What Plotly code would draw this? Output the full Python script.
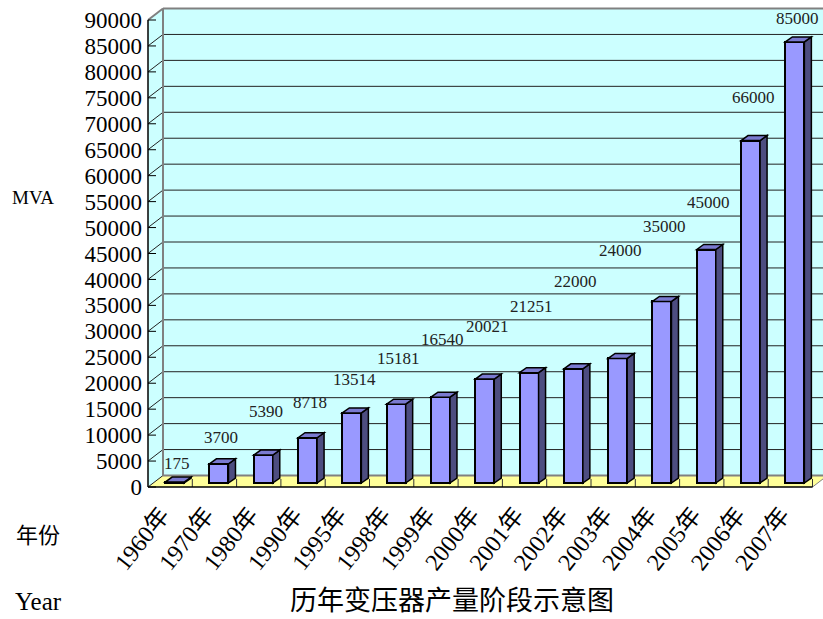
import plotly.graph_objects as go

# ---------------- data ----------------
years = ["1960年", "1970年", "1980年", "1990年", "1995年", "1998年", "1999年", "2000年",
         "2001年", "2002年", "2003年", "2004年", "2005年", "2006年", "2007年"]
values = [175, 3700, 5390, 8718, 13514, 15181, 16540, 20021,
          21251, 22000, 24000, 35000, 45000, 66000, 85000]
# heights (front-axis units) at which the data labels sit in the reference
label_at = [4600, 9600, 14500, 16200, 20800, 24700, 28500, 31000,
            34700, 39700, 45500, 50300, 54900, 75000, 90200]
y_ticks = list(range(0, 90001, 5000))

# ---------------- layout constants ----------------
W, H = 823, 619
L, R, T, B = 145, 0, 5, 128
PX_PER_UNIT_X = 44.3                 # pixels per category
PX_PER_UNIT_Y = 467 / 90000          # pixels per MVA
plot_w = W - L - R
plot_h = H - T - B
x0_range = -0.5 - 3 / PX_PER_UNIT_X
x_range = [x0_range, x0_range + plot_w / PX_PER_UNIT_X]
y_bottom = -4 / PX_PER_UNIT_Y
y_range = [y_bottom, y_bottom + plot_h / PX_PER_UNIT_Y]
bar_lift = 4 / PX_PER_UNIT_Y          # bars sit slightly behind the front axis
y2_range = [y_range[0] - bar_lift, y_range[1] - bar_lift]

wall_dx = 15 / PX_PER_UNIT_X
wall_dy = 11.5 / PX_PER_UNIT_Y
bar_dx = 7 / PX_PER_UNIT_X
bar_dy = 5 / PX_PER_UNIT_Y
bar_w = 0.43
bar_off = -bar_w / 2 + 4.5 / PX_PER_UNIT_X

SERIF = "Liberation Serif, Noto Sans CJK SC, serif"
CJK = "Noto Sans CJK SC, sans-serif"

n = len(years)
xs = list(range(n))
x_left_edge = -0.5
x_right_edge = n - 0.5
y_top = y_ticks[-1]

fig = go.Figure()
fig.add_trace(go.Bar(
    x=xs, y=values, yaxis="y2", width=bar_w, offset=bar_off,
    marker=dict(color="#9999FF", line=dict(color="black", width=2)),
    hoverinfo="x+y", showlegend=False,
))

shapes = []
GREY = "#808080"
# back wall
shapes.append(dict(type="rect", xref="x", yref="y", layer="below",
                   x0=x_left_edge + wall_dx, x1=x_right_edge + wall_dx,
                   y0=wall_dy, y1=y_top + wall_dy,
                   fillcolor="#CCFFFF", line=dict(width=0)))
# left wall
shapes.append(dict(type="path", xref="x", yref="y", layer="below",
                   path=f"M {x_left_edge},0 L {x_left_edge + wall_dx},{wall_dy} "
                        f"L {x_left_edge + wall_dx},{y_top + wall_dy} L {x_left_edge},{y_top} Z",
                   fillcolor="#CCFFFF", line=dict(width=0)))
# floor
shapes.append(dict(type="path", xref="x", yref="y", layer="below",
                   path=f"M {x_left_edge},0 L {x_right_edge},0 "
                        f"L {x_right_edge + wall_dx},{wall_dy} L {x_left_edge + wall_dx},{wall_dy} Z",
                   fillcolor="#FFFF99", line=dict(width=0)))
# back wall gridlines
for v in y_ticks[1:-1]:
    shapes.append(dict(type="line", xref="x", yref="y", layer="below",
                       x0=x_left_edge + wall_dx, x1=x_right_edge + wall_dx,
                       y0=v + wall_dy, y1=v + wall_dy,
                       line=dict(color="#222222", width=1)))
# left wall diagonals
for v in y_ticks[:-1]:
    shapes.append(dict(type="line", xref="x", yref="y", layer="below",
                       x0=x_left_edge, x1=x_left_edge + wall_dx,
                       y0=v, y1=v + wall_dy,
                       line=dict(color="#222222", width=1)))
# grey frame edges
shapes.append(dict(type="line", xref="x", yref="y", layer="below",
                   x0=x_left_edge, x1=x_left_edge + wall_dx, y0=y_top, y1=y_top + wall_dy,
                   line=dict(color=GREY, width=2)))
shapes.append(dict(type="line", xref="x", yref="y", layer="below",
                   x0=x_left_edge + wall_dx, x1=x_left_edge + wall_dx, y0=wall_dy, y1=y_top + wall_dy,
                   line=dict(color=GREY, width=2)))
shapes.append(dict(type="line", xref="x", yref="y", layer="below",
                   x0=x_left_edge + wall_dx, x1=x_right_edge + wall_dx, y0=y_top + wall_dy, y1=y_top + wall_dy,
                   line=dict(color=GREY, width=2)))
shapes.append(dict(type="line", xref="x", yref="y", layer="below",
                   x0=x_left_edge + wall_dx, x1=x_right_edge + wall_dx, y0=wall_dy, y1=wall_dy,
                   line=dict(color=GREY, width=2)))
shapes.append(dict(type="line", xref="x", yref="y", layer="below",
                   x0=x_right_edge, x1=x_right_edge + wall_dx, y0=0, y1=wall_dy,
                   line=dict(color=GREY, width=1)))
# front axes (black)
shapes.append(dict(type="line", xref="x", yref="y", layer="above",
                   x0=x_left_edge, x1=x_left_edge, y0=0, y1=y_top,
                   line=dict(color="black", width=1.5)))
shapes.append(dict(type="line", xref="x", yref="y", layer="above",
                   x0=x_left_edge, x1=x_right_edge, y0=0, y1=0,
                   line=dict(color="black", width=1.5)))
# y tick marks (inward)
for v in y_ticks:
    shapes.append(dict(type="line", xref="x", yref="y", layer="above",
                       xsizemode="pixel", xanchor=x_left_edge, x0=0, x1=8,
                       y0=v, y1=v, line=dict(color="black", width=1)))
# category separators on the floor front edge
for k in range(1, n + 1):
    shapes.append(dict(type="line", xref="x", yref="y", layer="below",
                       ysizemode="pixel", yanchor=0, y0=0, y1=8,
                       x0=k - 0.5, x1=k - 0.5, line=dict(color="#333333", width=1)))
# 3D faces of bars
for k, v in enumerate(values):
    xl = k + bar_off
    xr = xl + bar_w
    shapes.append(dict(type="path", xref="x", yref="y2", layer="above",
                       path=f"M {xr},0 L {xr + bar_dx},{bar_dy} L {xr + bar_dx},{v + bar_dy} L {xr},{v} Z",
                       fillcolor="#4D4D80", line=dict(color="black", width=1.5)))
    shapes.append(dict(type="path", xref="x", yref="y2", layer="above",
                       path=f"M {xl},{v} L {xl + bar_dx},{v + bar_dy} L {xr + bar_dx},{v + bar_dy} L {xr},{v} Z",
                       fillcolor="#7A7AD0", line=dict(color="black", width=1.5)))

annotations = []
for k, (v, ly) in enumerate(zip(values, label_at)):
    annotations.append(dict(x=k, y=ly, xref="x", yref="y", text=str(v), showarrow=False,
                            xshift=7, font=dict(family=SERIF, size=17, color="#222222")))


def px(xp, yp):
    return (xp - L) / plot_w, (H - B - yp) / plot_h


for text, (xp, yp), fam, size in [
    ("MVA", (33, 197), SERIF, 19),
    ("年份", (38, 533), CJK, 22),
    ("Year", (38, 601), SERIF, 25),
    ("历年变压器产量阶段示意图", (452, 598), CJK, 27),
]:
    ax, ay = px(xp, yp)
    annotations.append(dict(x=ax, y=ay, xref="paper", yref="paper", text=text, showarrow=False,
                            xanchor="center", yanchor="middle",
                            font=dict(family=fam, size=size, color="black")))

fig.update_layout(
    width=W, height=H,
    margin=dict(l=L, r=R, t=T, b=B, pad=0),
    paper_bgcolor="white", plot_bgcolor="white",
    shapes=shapes, annotations=annotations,
    bargap=0,
    xaxis=dict(range=x_range, tickmode="array", tickvals=xs, ticktext=years,
               tickangle=-52, showgrid=False, zeroline=False, showline=False, ticks="",
               ticklabelstandoff=4, ticklabelshift=-9,
               tickfont=dict(family=SERIF, size=24, color="black"), fixedrange=True),
    yaxis=dict(range=y_range, tickmode="array", tickvals=y_ticks,
               ticktext=[str(v) for v in y_ticks],
               showgrid=False, zeroline=False, showline=False, ticks="",
               ticklabelstandoff=2,
               tickfont=dict(family=SERIF, size=23, color="black"), fixedrange=True),
    yaxis2=dict(range=y2_range, overlaying="y", visible=False, fixedrange=True),
)

fig.write_html("out.html", config={"displayModeBar": False},
               post_script="document.body.style.margin='0';document.body.style.overflow='hidden';")
